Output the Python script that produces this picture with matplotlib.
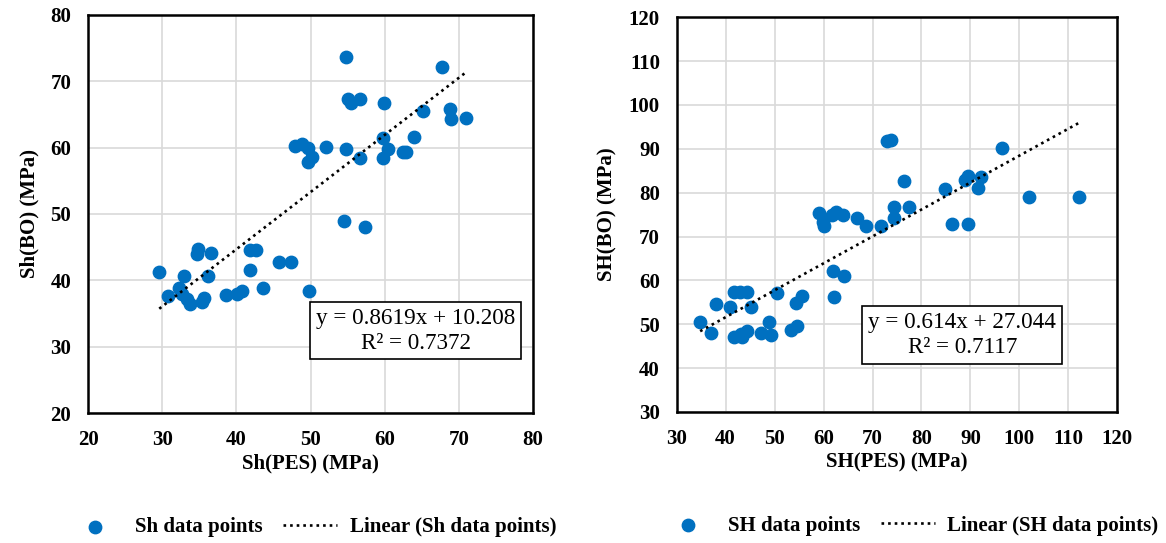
import numpy as np
import matplotlib
matplotlib.use("Agg")
import matplotlib.pyplot as plt

plt.rcParams['font.family'] = ['Liberation Serif', 'DejaVu Serif']

# Sh data (left)
sh_pes = [29.6, 30.8, 32.2, 32.9, 32.7, 33.4, 33.7, 34.8, 34.7, 36.6, 36.2,
          35.3, 35.6, 38.6, 40.1, 40.7, 41.8, 42.7, 41.8, 43.6, 45.8, 47.4,
          49.8, 47.9, 48.8, 49.6, 49.6, 50.2, 52.1, 54.8, 54.5, 54.8, 55.0,
          55.5, 56.6, 56.7, 57.3, 59.9, 59.7, 59.7, 60.4, 62.4, 62.9, 64.0,
          65.1, 67.7, 68.8, 68.9, 71.0]
sh_bo = [41.2, 37.7, 38.9, 40.7, 37.9, 37.2, 36.5, 44.7, 44.0, 44.1, 40.7,
         36.7, 37.3, 37.8, 37.9, 38.4, 44.6, 44.6, 41.5, 38.8, 42.8, 42.7,
         38.4, 60.3, 60.5, 60.0, 57.9, 58.6, 60.1, 59.8, 48.9, 73.6, 67.3,
         66.7, 67.3, 58.5, 48.0, 66.8, 61.5, 58.5, 59.8, 59.4, 59.4, 61.6,
         65.6, 72.2, 65.8, 64.3, 64.4]
sh_fit = (0.8619, 10.208)
sh_r2 = 0.7372

# SH data (right)
SH_pes = [34.8, 37.1, 38.0, 40.9, 41.8, 43.3, 41.8, 42.9, 44.4, 45.2, 43.1,
          44.4, 47.3, 48.8, 49.2, 50.4, 53.3, 54.5, 54.4, 55.7, 59.0, 59.8,
          60.1, 61.8, 62.5, 63.9, 62.0, 64.1, 62.2, 66.9, 68.6, 71.8, 72.9,
          73.7, 74.4, 74.4, 76.5, 77.4, 84.9, 86.3, 88.8, 89.5, 89.5, 91.6,
          92.1, 96.5, 101.9, 112.1]
SH_bo = [50.4, 48.0, 54.6, 53.9, 47.0, 47.0, 57.3, 57.3, 57.3, 53.9, 47.7,
         48.5, 48.1, 50.4, 47.6, 57.2, 48.6, 49.5, 54.8, 56.5, 75.3, 73.2,
         72.4, 74.8, 75.5, 74.8, 62.2, 61.0, 56.3, 74.2, 72.4, 72.4, 91.8,
         92.0, 76.7, 74.2, 82.7, 76.7, 80.9, 72.9, 82.9, 83.7, 72.9, 81.0,
         83.5, 90.1, 79.0, 79.1]
SH_fit = (0.614, 27.044)
SH_r2 = 0.7117

blue = '#0070C0'
fig = plt.figure(figsize=(11.66, 5.43), dpi=100)
ax1 = fig.add_axes([0.0755, 0.2394, 0.3817, 0.733])
ax2 = fig.add_axes([0.5803, 0.2413, 0.378, 0.727])


def draw(ax, x, y, fit, r2, name, xlim, ylim, xlabel, ylabel, box_xy, leg_x):
    ax.grid(True, color='#D9D9D9', lw=1.2, zorder=0)
    ax.scatter(x, y, s=80, color=blue, zorder=3, label=name + ' data points')
    xs = np.array([min(x), max(x)])
    ax.plot(xs, fit[0] * xs + fit[1], color='black', lw=1.9,
            linestyle=(0, (1, 1.5)), zorder=4,
            label='Linear (' + name + ' data points)')
    ax.set_xlim(*xlim)
    ax.set_ylim(*ylim)
    ax.set_xticks(np.arange(xlim[0], xlim[1] + 1, 10))
    ax.set_yticks(np.arange(ylim[0], ylim[1] + 1, 10))
    ax.tick_params(length=0, pad=12, labelsize=15)
    for lab in ax.get_xticklabels() + ax.get_yticklabels():
        lab.set_fontweight('bold')
    for s in ax.spines.values():
        s.set_linewidth(1.8)
    ax.set_axisbelow(True)
    ax.set_xlabel(xlabel, fontsize=15, fontweight='bold', labelpad=3)
    ax.set_ylabel(ylabel, fontsize=15, fontweight='bold', labelpad=8)
    sign = '+' if fit[1] >= 0 else '-'
    txt = 'y = %gx %s %g\nR² = %g' % (fit[0], sign, abs(fit[1]), r2)
    ax.text(box_xy[0], box_xy[1], txt, transform=ax.transAxes, ha='center',
            va='center', fontsize=16.7, linespacing=1.25, zorder=5,
            bbox=dict(boxstyle='square,pad=0.25', fc='white', ec='black', lw=1.2))
    ax.legend(loc='upper center', bbox_to_anchor=(leg_x, -0.215), ncol=2,
              frameon=False, prop={'size': 15, 'weight': 'bold'},
              handlelength=2.6, columnspacing=1.0, handletextpad=0.6)


draw(ax1, sh_pes, sh_bo, sh_fit, sh_r2, 'Sh', (20, 80), (20, 80),
     'Sh(PES) (MPa)', 'Sh(BO) (MPa)', (0.736, 0.207), 0.504)
draw(ax2, SH_pes, SH_bo, SH_fit, SH_r2, 'SH', (30, 120), (30, 120),
     'SH(PES) (MPa)', 'SH(BO) (MPa)', (0.648, 0.195), 0.529)

fig.savefig('out.png', dpi=100)
